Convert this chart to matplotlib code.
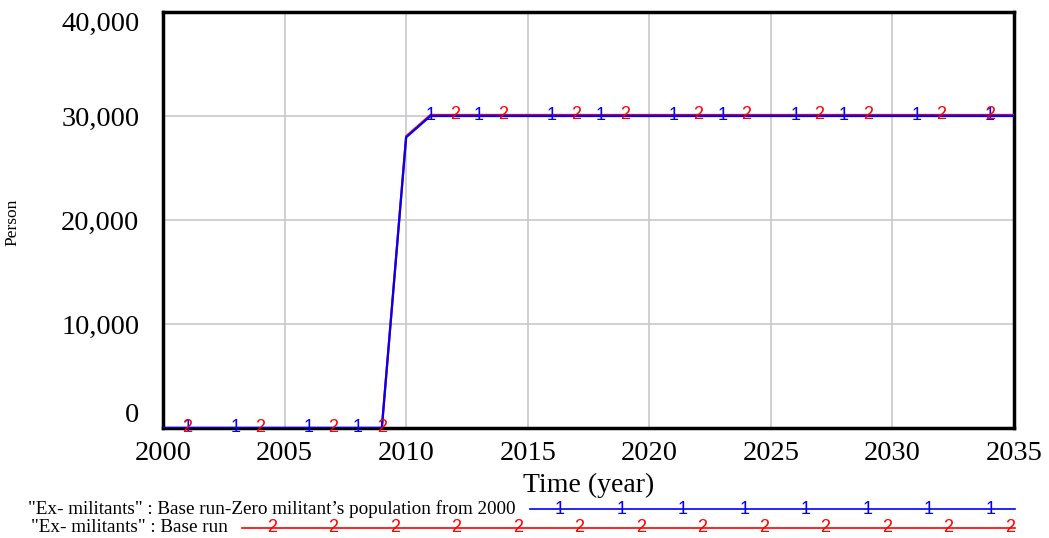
import numpy as np
import matplotlib.pyplot as plt
from matplotlib.ticker import FuncFormatter

# data
years = [2000, 2001, 2002, 2003, 2004, 2005, 2006, 2007, 2008, 2009, 2010, 2011, 2035]
zero_run = [0, 0, 0, 0, 0, 0, 0, 0, 0, 0, 27950, 30000, 30000]
base_run = [0, 0, 0, 0, 0, 0, 0, 0, 0, 0, 28050, 30100, 30100]
marks_1 = [2001, 2003, 2006, 2008, 2011, 2013, 2016, 2018, 2021, 2023, 2026, 2028, 2031, 2034]
marks_2 = [2001, 2004, 2007, 2009, 2012, 2014, 2017, 2019, 2022, 2024, 2027, 2029, 2032, 2034]
xticks = [2000, 2005, 2010, 2015, 2020, 2025, 2030, 2035]
yticks = [0, 10000, 20000, 30000, 40000]
label_1 = '"Ex- militants" : Base run-Zero militant\u2019s population from 2000'
label_2 = '"Ex- militants" : Base run'

SERIF = 'Liberation Serif'
SANS = 'Liberation Sans'
BLUE = '#0000ff'
RED = '#ff0000'

fig = plt.figure(figsize=(10.49, 5.38), dpi=100)
ax = fig.add_axes([163 / 1049, 1 - 428 / 538, (1014 - 163) / 1049, (428 - 12) / 538])

ax.plot(years, base_run, color=RED, lw=1.6, zorder=3)
ax.plot(years, zero_run, color=BLUE, lw=1.6, zorder=4)

# numbered markers on the lines
for yr in marks_1:
    ax.text(yr, np.interp(yr, years, zero_run), '1', color=BLUE, family=SANS,
            fontsize=13, ha='center', va='center', zorder=5)
for yr in marks_2:
    ax.text(yr, np.interp(yr, years, base_run), '2', color=RED, family=SANS,
            fontsize=13, ha='center', va='center', zorder=5)

ax.set_xlim(2000, 2035)
ax.set_ylim(0, 40000)
ax.set_xticks(xticks)
ax.set_yticks(yticks)
ax.yaxis.set_major_formatter(FuncFormatter(lambda v, p: f'{int(v):,}'))
ax.grid(True, color='#c8c8c8', lw=1.2)
ax.set_axisbelow(True)
for s in ax.spines.values():
    s.set_linewidth(2.5)
    s.set_color('black')
ax.tick_params(length=0)
for lab in ax.get_xticklabels() + ax.get_yticklabels():
    lab.set_family(SERIF)
    lab.set_fontsize(20.5)
ax.tick_params(axis='y', pad=17)
ax.tick_params(axis='x', pad=9)
ylabs = ax.get_yticklabels()
ylabs[0].set_va('bottom')
ylabs[-1].set_va('top')

ax.set_xlabel('Time (year)', family=SERIF, fontsize=20, labelpad=5)
fig.text(12 / 1049, 1 - 222 / 538, 'Person', family=SERIF, fontsize=12.5,
         rotation=90, ha='center', va='center')

# legend strip at the bottom, in pixel coordinates
lg = fig.add_axes([0, 0, 1, 1], facecolor='none')
lg.set_xlim(0, 1049)
lg.set_ylim(538, 0)
lg.axis('off')

rows = [(label_1, BLUE, '1', 509, 530, 560, 61.5, 8),
        (label_2, RED, '2', 528, 242, 272, 61.5, 13)]
for text, col, sym, y, x0, m0, step, n in rows:
    lg.text(x0 - 14, y, text, family=SERIF, fontsize=13.8, ha='right', va='center')
    lg.plot([x0, 1015], [y, y], color=col, lw=1.2)
    for k in range(n):
        lg.text(m0 + k * step, y, sym, color=col, family=SANS, fontsize=13,
                ha='center', va='center')

fig.savefig('out.png', dpi=100)
